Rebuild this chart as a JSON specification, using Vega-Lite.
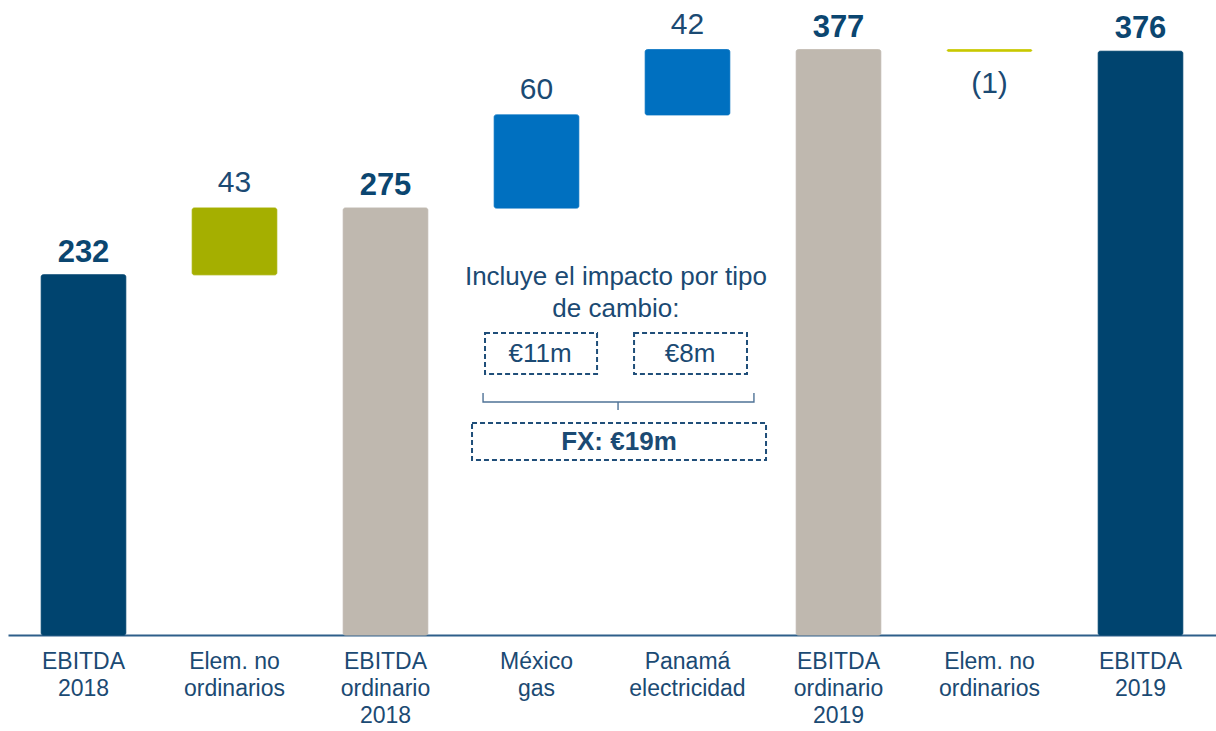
{
  "$schema": "https://vega.github.io/schema/vega-lite/v6.json",
  "width": 1208,
  "height": 635,
  "autosize": "none",
  "padding": {"left": 8, "top": 0, "right": 0, "bottom": 96},
  "background": "white",
  "config": {"view": {"stroke": null}, "font": "Liberation Sans"},
  "datasets": {
    "bars": [
      {"cat": "EBITDA|2018", "start": 0, "end": 232, "kind": "total", "type": "total", "lbl": "232"},
      {"cat": "Elem. no|ordinarios", "start": 232, "end": 275, "kind": "extra", "type": "delta", "lbl": "43"},
      {"cat": "EBITDA|ordinario|2018", "start": 0, "end": 275, "kind": "ordinary", "type": "total", "lbl": "275"},
      {"cat": "México|gas", "start": 275, "end": 335, "kind": "growth", "type": "delta", "lbl": "60"},
      {"cat": "Panamá|electricidad", "start": 335, "end": 377, "kind": "growth", "type": "delta", "lbl": "42"},
      {"cat": "EBITDA|ordinario|2019", "start": 0, "end": 377, "kind": "ordinary", "type": "total", "lbl": "377"},
      {"cat": "Elem. no|ordinarios ", "start": 377, "end": 376, "kind": "extra_neg", "type": "delta", "lbl": "(1)"},
      {"cat": "EBITDA|2019", "start": 0, "end": 376, "kind": "total", "type": "total", "lbl": "376"}
    ],
    "notes": [
      {"u": 4.026, "v": 230.6, "t": "Incluye el impacto por tipo", "w": "normal"},
      {"u": 4.026, "v": 210.0, "t": "de cambio:", "w": "normal"},
      {"u": 3.523, "v": 181.3, "t": "€11m", "w": "normal"},
      {"u": 4.517, "v": 181.3, "t": "€8m", "w": "normal"},
      {"u": 4.046, "v": 124.6, "t": "FX: €19m", "w": "bold"}
    ],
    "boxes": [
      {"u1": 3.159, "u2": 3.901, "v1": 194.5, "v2": 168.1},
      {"u1": 4.146, "u2": 4.894, "v1": 194.5, "v2": 168.1},
      {"u1": 3.073, "u2": 5.02, "v1": 136.5, "v2": 112.7}
    ],
    "brace": [
      {"o": 1, "u": 3.146, "v": 155.9},
      {"o": 2, "u": 3.146, "v": 150.1},
      {"o": 3, "u": 4.04, "v": 150.1},
      {"o": 4, "u": 4.04, "v": 145.0},
      {"o": 5, "u": 4.04, "v": 150.1},
      {"o": 6, "u": 4.94, "v": 150.1},
      {"o": 7, "u": 4.94, "v": 155.9}
    ]
  },
  "layer": [
    {
      "data": {"name": "bars"},
      "encoding": {
        "x": {
          "field": "cat", "type": "nominal", "sort": null,
          "scale": {"paddingInner": 0.44, "paddingOuter": 0.22},
          "axis": {
            "title": null, "ticks": false, "domainColor": "#2E5F8A", "domainWidth": 2,
            "labelAngle": 0, "labelFontSize": 23, "labelLineHeight": 27, "labelColor": "#1B4A73",
            "labelPadding": 15, "labelFont": "Liberation Sans",
            "labelExpr": "split(trim(datum.value), '|')"
          }
        }
      },
      "layer": [
        {
          "mark": {"type": "bar", "cornerRadius": 2, "strokeWidth": 1},
          "encoding": {
            "y": {"field": "start", "type": "quantitative", "scale": {"domain": [0, 409], "nice": false}, "axis": null},
            "y2": {"field": "end"},
            "color": {"field": "kind", "type": "nominal", "legend": null,
              "scale": {"domain": ["total", "extra", "ordinary", "growth", "extra_neg"], "range": ["#00446F", "#A5AF00", "#BFB8AF", "#0070C0", "#C8C800"]}},
            "stroke": {"field": "kind", "type": "nominal", "legend": null,
              "scale": {"domain": ["total", "extra", "ordinary", "growth", "extra_neg"], "range": ["#00446F", "#A5AF00", "#BFB8AF", "#0070C0", "#C8C800"]}}
          }
        },
        {
          "transform": [{"filter": "datum.type == 'total'"}],
          "mark": {"type": "text", "baseline": "bottom", "dy": -6, "fontSize": 31, "fontWeight": "bold", "color": "#0B4670"},
          "encoding": {
            "y": {"field": "end", "type": "quantitative", "scale": {"domain": [0, 409], "nice": false}, "axis": null},
            "text": {"field": "lbl"}
          }
        },
        {
          "transform": [{"filter": "datum.type == 'delta' && datum.end > datum.start"}],
          "mark": {"type": "text", "baseline": "bottom", "dy": -10, "fontSize": 30, "color": "#1B4A73"},
          "encoding": {
            "y": {"field": "end", "type": "quantitative", "scale": {"domain": [0, 409], "nice": false}, "axis": null},
            "text": {"field": "lbl"}
          }
        },
        {
          "transform": [{"filter": "datum.type == 'delta' && datum.end < datum.start"}],
          "mark": {"type": "text", "baseline": "top", "dy": 18, "fontSize": 30, "color": "#1B4A73"},
          "encoding": {
            "y": {"field": "end", "type": "quantitative", "scale": {"domain": [0, 409], "nice": false}, "axis": null},
            "text": {"field": "lbl"}
          }
        }
      ]
    },
    {
      "data": {"name": "boxes"},
      "mark": {"type": "rect", "fill": null, "stroke": "#1F4E79", "strokeWidth": 2, "strokeDash": [5, 3]},
      "encoding": {
        "x": {"field": "u1", "type": "quantitative", "scale": {"domain": [0, 8], "nice": false, "zero": false}, "axis": null},
        "x2": {"field": "u2"},
        "y": {"field": "v1", "type": "quantitative", "scale": {"domain": [0, 409], "nice": false}, "axis": null},
        "y2": {"field": "v2"}
      }
    },
    {
      "data": {"name": "brace"},
      "mark": {"type": "line", "stroke": "#4F7397", "strokeWidth": 1.4},
      "encoding": {
        "x": {"field": "u", "type": "quantitative", "scale": {"domain": [0, 8], "nice": false, "zero": false}, "axis": null},
        "y": {"field": "v", "type": "quantitative", "scale": {"domain": [0, 409], "nice": false}, "axis": null},
        "order": {"field": "o"}
      }
    },
    {
      "data": {"name": "notes"},
      "transform": [{"filter": "datum.w == 'normal'"}],
      "mark": {"type": "text", "fontSize": 26, "color": "#1B4A73", "baseline": "middle"},
      "encoding": {
        "x": {"field": "u", "type": "quantitative", "scale": {"domain": [0, 8], "nice": false, "zero": false}, "axis": null},
        "y": {"field": "v", "type": "quantitative", "scale": {"domain": [0, 409], "nice": false}, "axis": null},
        "text": {"field": "t"}
      }
    },
    {
      "data": {"name": "notes"},
      "transform": [{"filter": "datum.w == 'bold'"}],
      "mark": {"type": "text", "fontSize": 26, "fontWeight": "bold", "color": "#1B4A73", "baseline": "middle"},
      "encoding": {
        "x": {"field": "u", "type": "quantitative", "scale": {"domain": [0, 8], "nice": false, "zero": false}, "axis": null},
        "y": {"field": "v", "type": "quantitative", "scale": {"domain": [0, 409], "nice": false}, "axis": null},
        "text": {"field": "t"}
      }
    }
  ],
  "resolve": {"scale": {"x": "independent"}}
}
